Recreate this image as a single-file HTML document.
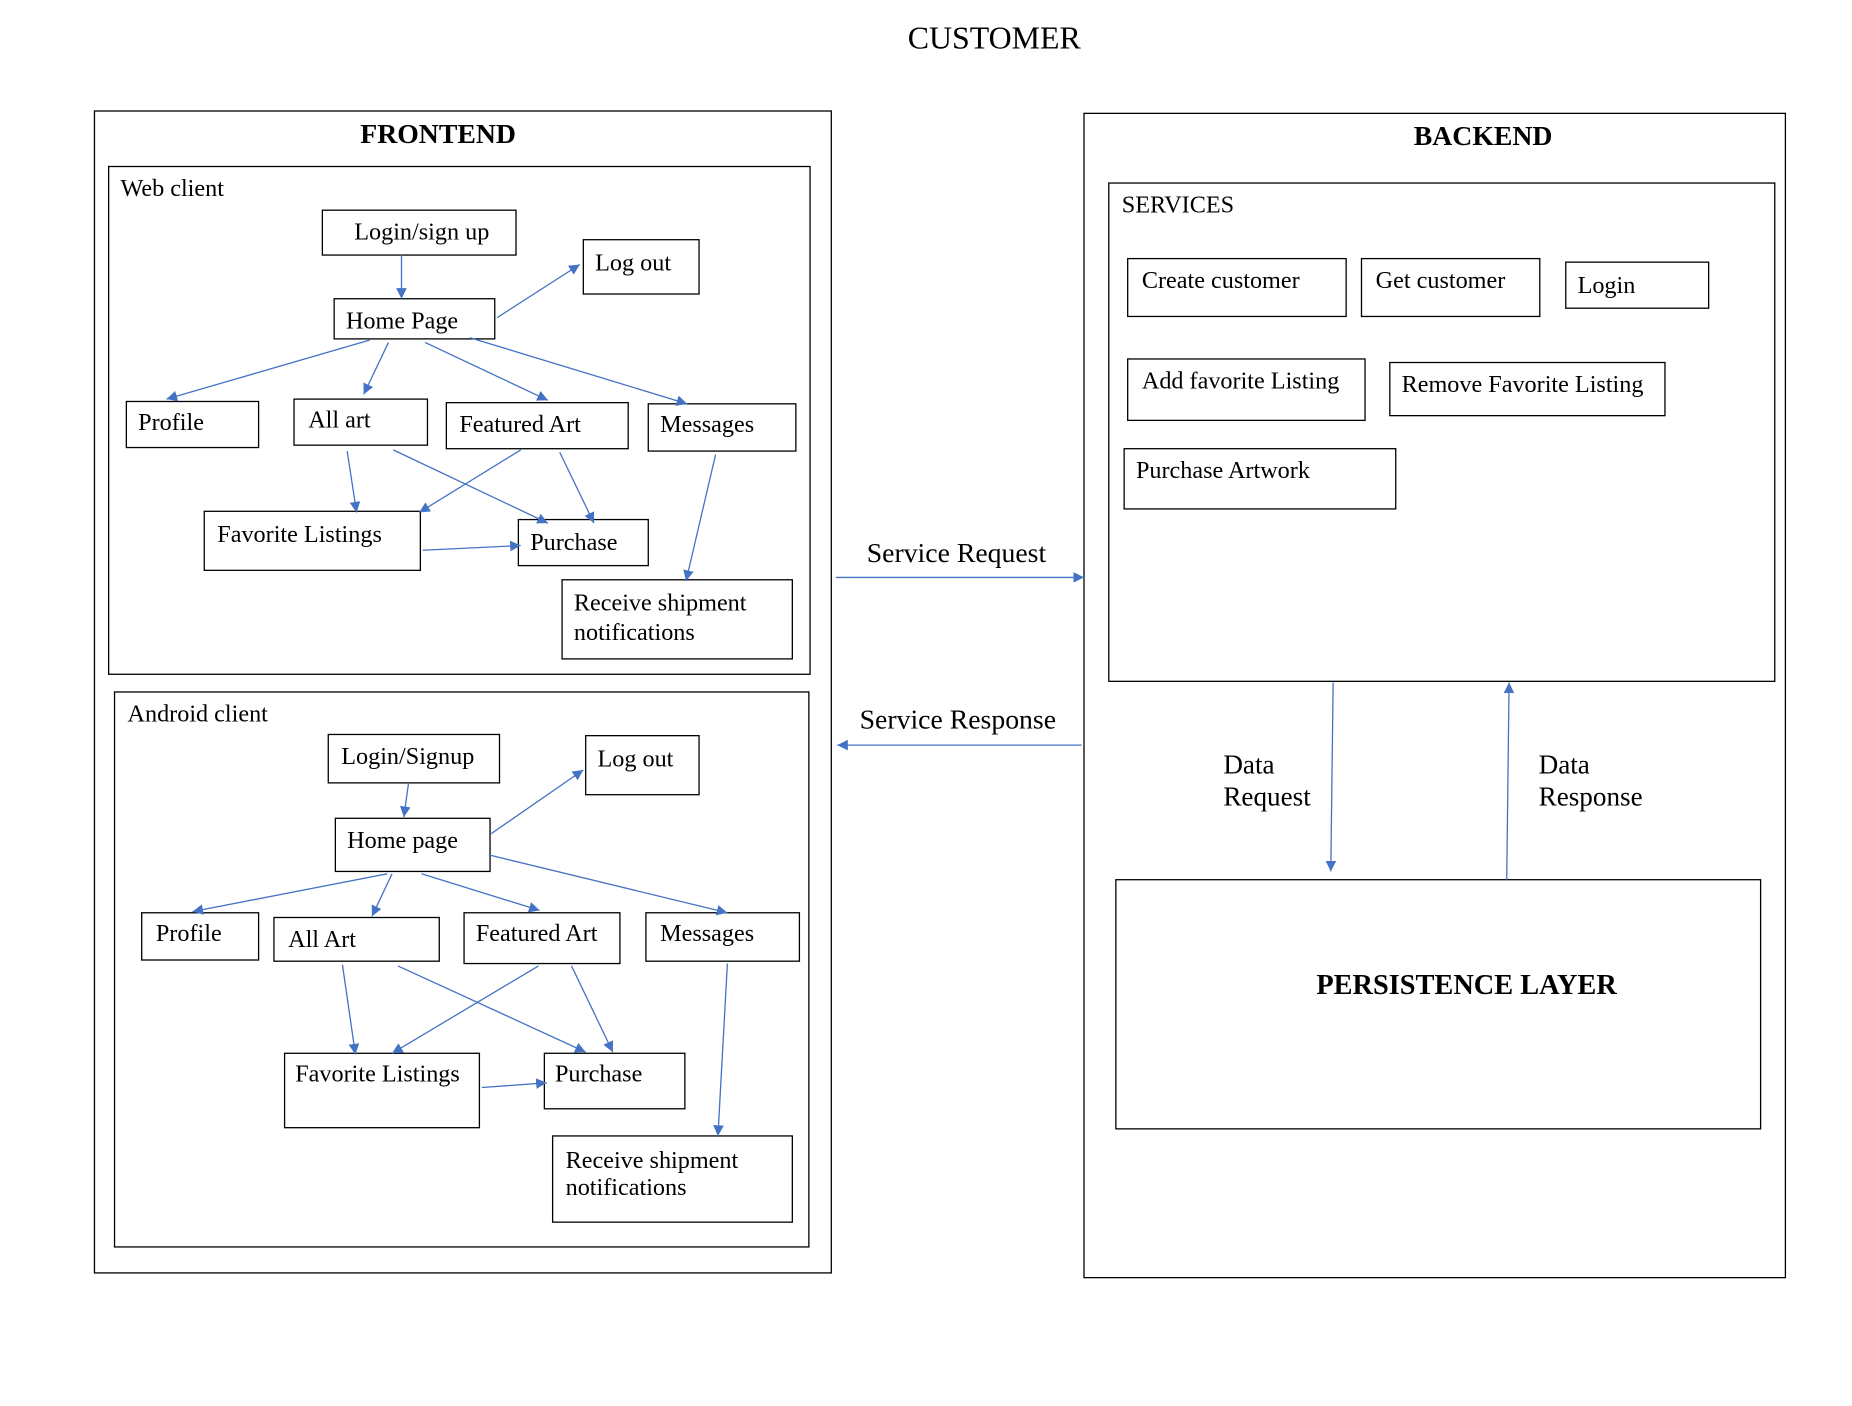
<!DOCTYPE html>
<html><head><meta charset="utf-8"><style>html,body{margin:0;padding:0;background:#fff}svg{display:block}</style></head>
<body>
<svg width="1852" height="1406" viewBox="0 0 1568.4 1190.7" preserveAspectRatio="none" xmlns="http://www.w3.org/2000/svg" font-family="'Liberation Serif', serif" font-size="20.5">
<defs><marker id="a" viewBox="0 0 10 10" refX="10" refY="5" markerWidth="9" markerHeight="9" markerUnits="userSpaceOnUse" orient="auto"><path d="M0,0L10,5L0,10z" fill="#4472C4"/></marker></defs>
<g fill="none" stroke="#000" stroke-width="1.1">
<rect x="80" y="94" width="624" height="984"/>
<rect x="92" y="141" width="594" height="430"/>
<rect x="273" y="178" width="164" height="38"/>
<rect x="494" y="203" width="98" height="46"/>
<rect x="283" y="253" width="136" height="34"/>
<rect x="107" y="340" width="112" height="39"/>
<rect x="249" y="338" width="113" height="39"/>
<rect x="378" y="341" width="154" height="39"/>
<rect x="549" y="342" width="125" height="40"/>
<rect x="173" y="433" width="183" height="50"/>
<rect x="439" y="440" width="110" height="39"/>
<rect x="476" y="491" width="195" height="67"/>
<rect x="97" y="586" width="588" height="470"/>
<rect x="278" y="622" width="145" height="41"/>
<rect x="496" y="623" width="96" height="50"/>
<rect x="284" y="693" width="131" height="45"/>
<rect x="120" y="773" width="99" height="40"/>
<rect x="232" y="777" width="140" height="37"/>
<rect x="393" y="773" width="132" height="43"/>
<rect x="547" y="773" width="130" height="41"/>
<rect x="241" y="892" width="165" height="63"/>
<rect x="461" y="892" width="119" height="47"/>
<rect x="468" y="962" width="203" height="73"/>
<rect x="918" y="96" width="594" height="986"/>
<rect x="939" y="155" width="564" height="422"/>
<rect x="955" y="219" width="185" height="49"/>
<rect x="1153" y="219" width="151" height="49"/>
<rect x="1326" y="222" width="121" height="39"/>
<rect x="955" y="304" width="201" height="52"/>
<rect x="1177" y="307" width="233" height="45"/>
<rect x="952" y="380" width="230" height="51"/>
<rect x="945" y="745" width="546" height="211"/>
</g>
<g stroke="#4472C4" stroke-width="1.1" marker-end="url(#a)">
<line x1="340" y1="216" x2="340" y2="253"/>
<line x1="421" y1="269" x2="491" y2="224"/>
<line x1="313" y1="288" x2="141" y2="338"/>
<line x1="329" y1="290" x2="308" y2="334"/>
<line x1="360" y1="290" x2="464" y2="339"/>
<line x1="398" y1="286" x2="582" y2="342"/>
<line x1="294" y1="382" x2="302" y2="434"/>
<line x1="333" y1="381" x2="464" y2="443"/>
<line x1="441" y1="381" x2="355" y2="434"/>
<line x1="474" y1="383" x2="503" y2="443"/>
<line x1="358" y1="466" x2="441" y2="462"/>
<line x1="606" y1="385" x2="581" y2="492"/>
<line x1="346" y1="663" x2="342" y2="692"/>
<line x1="416" y1="706" x2="494" y2="652"/>
<line x1="328" y1="740" x2="163" y2="772"/>
<line x1="332" y1="740" x2="315" y2="776"/>
<line x1="357" y1="740" x2="457" y2="771"/>
<line x1="414" y1="724" x2="616" y2="773"/>
<line x1="290" y1="817" x2="301" y2="893"/>
<line x1="337" y1="818" x2="496" y2="891"/>
<line x1="456" y1="818" x2="332" y2="892"/>
<line x1="484" y1="818" x2="519" y2="891"/>
<line x1="408" y1="921" x2="463" y2="917"/>
<line x1="616" y1="816" x2="608" y2="962"/>
<line x1="708" y1="489" x2="918" y2="489"/>
<line x1="916" y1="631" x2="709" y2="631"/>
<line x1="1129" y1="578" x2="1127" y2="738"/>
<line x1="1276" y1="745" x2="1278" y2="578"/>
</g>
<g fill="#000">
<text x="842" y="41" font-size="27" text-anchor="middle">CUSTOMER</text>
<text x="371" y="121" font-size="23.5" font-weight="bold" text-anchor="middle">FRONTEND</text>
<text x="1256" y="123" font-size="23.5" font-weight="bold" text-anchor="middle">BACKEND</text>
<text x="1242" y="842" font-size="24" font-weight="bold" text-anchor="middle">PERSISTENCE LAYER</text>
<text x="102" y="166">Web client</text>
<text x="300" y="203">Login/sign up</text>
<text x="504" y="229">Log out</text>
<text x="293" y="278">Home Page</text>
<text x="117" y="364">Profile</text>
<text x="261" y="362">All art</text>
<text x="389" y="366">Featured Art</text>
<text x="559" y="366">Messages</text>
<text x="184" y="459">Favorite Listings</text>
<text x="449" y="466">Purchase</text>
<text x="486" y="517">Receive shipment</text>
<text x="486" y="542">notifications</text>
<text x="108" y="611">Android client</text>
<text x="289" y="647">Login/Signup</text>
<text x="506" y="649">Log out</text>
<text x="294" y="718">Home page</text>
<text x="132" y="797">Profile</text>
<text x="244" y="802">All Art</text>
<text x="403" y="797">Featured Art</text>
<text x="559" y="797">Messages</text>
<text x="250" y="916">Favorite Listings</text>
<text x="470" y="916">Purchase</text>
<text x="479" y="989">Receive shipment</text>
<text x="479" y="1012">notifications</text>
<text x="734" y="476" font-size="23.5">Service Request</text>
<text x="728" y="617" font-size="23.5">Service Response</text>
<text x="950" y="180">SERVICES</text>
<text x="967" y="244">Create customer</text>
<text x="1165" y="244">Get customer</text>
<text x="1336" y="248">Login</text>
<text x="967" y="329">Add favorite Listing</text>
<text x="1187" y="332">Remove Favorite Listing</text>
<text x="962" y="405">Purchase Artwork</text>
<text x="1036" y="655" font-size="23">Data</text>
<text x="1036" y="682" font-size="23">Request</text>
<text x="1303" y="655" font-size="23">Data</text>
<text x="1303" y="682" font-size="23">Response</text>
</g>
</svg>
</body></html>
